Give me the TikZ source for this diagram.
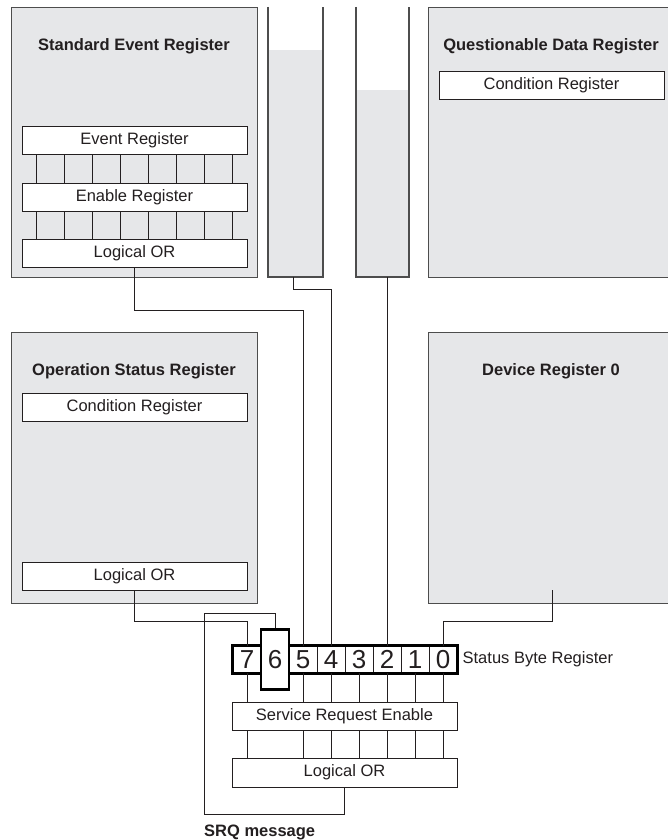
\documentclass[tikz,border=0pt]{standalone}
\usepackage{fontspec}
\setmainfont{Liberation Sans}
\definecolor{regfill}{HTML}{E6E7E9}
\definecolor{regedge}{HTML}{4D4D4D}
\definecolor{inkgray}{HTML}{231F20}
\begin{document}
\begin{tikzpicture}[x=1pt,y=-1pt,
  regbox/.style={draw=regedge,line width=1.3pt,fill=regfill,anchor=north west,inner sep=0pt,minimum width=246pt,minimum height=270pt},
  subbox/.style={draw=inkgray,line width=0.9pt,fill=white,inner sep=0pt,minimum width=225pt,minimum height=28pt,font=\fontsize{16.5}{18}\selectfont,text=inkgray},
  regtitle/.style={inner sep=0pt,font=\fontsize{16.5}{18}\selectfont\bfseries,text=inkgray},
  bitcell/.style={draw=inkgray,line width=0.9pt,inner sep=0pt,minimum width=28pt,minimum height=27pt,font=\fontsize{26}{26}\selectfont,text=inkgray},
  wire/.style={draw=inkgray,line width=0.9pt},
  tubewall/.style={draw=regedge,line width=1.3pt}]
\useasboundingbox (0,0) rectangle (667,840);
% upper row
\node[regbox] (ser) at (11,7) {};
\node[regtitle] (sertitle) at (134,46) {Standard Event Register};
\node[subbox] (evr) at (134.5,140.5) {Event Register};
\node[subbox] (enr) at (134.5,197) {Enable Register};
\node[subbox] (seor) at (134.5,253) {Logical OR};
\foreach \k in {0,...,7} {
  \draw[wire] (36+28*\k,154.5) -- (36+28*\k,183);
  \draw[wire] (36+28*\k,211) -- (36+28*\k,239);
}
\fill[regfill] (268,50) rectangle (323,277);
\draw[tubewall] (268,7) -- (268,277) -- (323,277) -- (323,7);
\coordinate (tubeA) at (293,277);
\fill[regfill] (356,90) rectangle (409,277);
\draw[tubewall] (356,7) -- (356,277) -- (409,277) -- (409,7);
\coordinate (tubeB) at (387,277);
\node[regbox] (qdr) at (428,7) {};
\node[regtitle] (qdrtitle) at (551,46) {Questionable Data Register};
\node[subbox] (qdcond) at (551.5,85) {Condition Register};
% lower row
\node[regbox,minimum height=271pt] (osr) at (11,332) {};
\node[regtitle] (osrtitle) at (134,371) {Operation Status Register};
\node[subbox] (oscond) at (134.5,407.5) {Condition Register};
\node[subbox] (osor) at (134.5,576) {Logical OR};
\node[regbox,minimum height=271pt] (dvr) at (428,332) {};
\node[regtitle] (dvrtitle) at (551,371) {Device Register 0};
\coordinate (dvrout) at (552,590);
% status byte
\foreach \i in {7,5,4,3,2,1,0}
  \node[bitcell] (b\i) at (443-28*\i,659.5) {\i};
\coordinate (b6pos) at (275,659.5);
\draw[draw=black,line width=2.6pt] (b7.north west) rectangle (b0.south east);
\node[bitcell,draw=black,line width=2.6pt,fill=white,minimum height=60pt] (b6) at (b6pos) {6};
\node[anchor=west,inner sep=0pt,font=\fontsize{16.5}{18}\selectfont,text=inkgray] (sbrlabel) at ([xshift=5pt]b0.east) {Status Byte Register};
\node[subbox] (sre) at (344.5,716) {Service Request Enable};
\node[subbox,minimum height=29pt] (sor) at (344.5,772.5) {Logical OR};
\foreach \i in {7,5,4,3,2,1,0} {
  \draw[wire] (b\i.south) -- (b\i.south |- sre.north);
  \draw[wire] (sre.south -| b\i) -- (sor.north -| b\i);
}
% summary lines
\draw[wire] (seor.south) -- ++(0,43) -| (b5.north);
\draw[wire] (tubeA) -- ++(0,12) -| (b4.north);
\draw[wire] (tubeB) -- (b2.north);
\draw[wire] (osor.south) -- ++(0,31) -| (b7.north);
\draw[wire] (dvrout) -- ++(0,31) -| (b0.north);
\coordinate (srqturn) at (204,613);
\draw[wire] (sor.south) -- ++(0,27) -| (srqturn) -| (b6.north);
\node[regtitle,anchor=west] (srq) at (204,832) {SRQ message};
\end{tikzpicture}
\end{document}
